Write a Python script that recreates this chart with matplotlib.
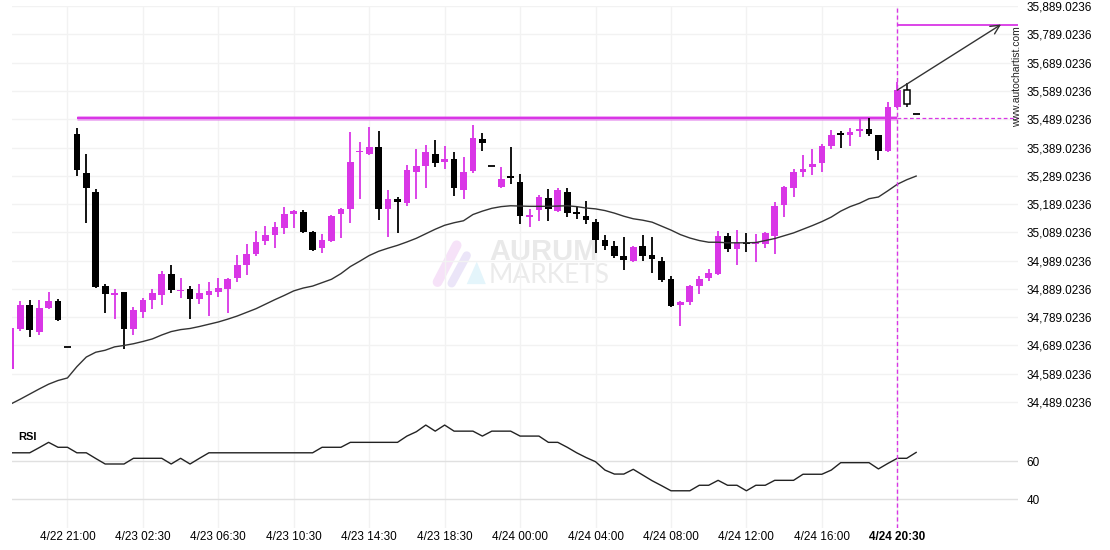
import numpy as np
import matplotlib.pyplot as plt
from matplotlib.ticker import FuncFormatter

plt.rcParams['font.family'] = ['Liberation Sans', 'DejaVu Sans']

# 30-minute candles
opens = [34605, 34747, 34832, 34736, 34821, 34846, 34683, 35436, 35298, 35231,
         34899, 34868, 34878, 34747, 34807, 34849, 34867, 34941, 34880, 34888,
         34853, 34867, 34878, 34888, 34927, 34973, 35012, 35058, 35079, 35104,
         35153, 35160, 35090, 35033, 35058, 35153, 35171, 35372, 35365, 35390,
         35171, 35206, 35192, 35302, 35323, 35365, 35337, 35348, 35238, 35305,
         35418, 35323, 35249, 35288, 35266, 35143, 35167, 35210, 35164, 35231,
         35159, 35146, 35125, 35061, 35040, 35005, 34987, 35040, 35008, 34987,
         34923, 34832, 34842, 34899, 34927, 34941, 35075, 35030, 35054, 35049,
         35047, 35075, 35185, 35245, 35302, 35319, 35334, 35394, 35436, 35433,
         35447, 35454, 35433, 35376, 35532, 35542, 35507]
closes = [34750, 34832, 34743, 34821, 34846, 34779, 34683, 35309, 35245, 34895,
          34870, 34875, 34747, 34814, 34849, 34874, 34941, 34885, 34885, 34853,
          34874, 34881, 34892, 34923, 34973, 35012, 35054, 35079, 35107, 35153,
          35164, 35090, 35026, 35061, 35146, 35171, 35337, 35376, 35390, 35171,
          35206, 35196, 35309, 35323, 35372, 35334, 35348, 35245, 35302, 35422,
          35404, 35323, 35277, 35281, 35146, 35150, 35213, 35171, 35238, 35157,
          35155, 35132, 35061, 35040, 35005, 34991, 35037, 35005, 34994, 34920,
          34828, 34842, 34899, 34923, 34945, 35075, 35030, 35051, 35047, 35054,
          35086, 35182, 35249, 35302, 35312, 35330, 35394, 35433, 35434, 35443,
          35454, 35436, 35376, 35532, 35592, 35592, 35507]
highs = [34750, 34846, 34849, 34849, 34878, 34853, 34683, 35457, 35365, 35242,
         34906, 34888, 34878, 34825, 34856, 34888, 34952, 34973, 34927, 34899,
         34906, 34913, 34927, 34927, 35008, 35047, 35093, 35111, 35125, 35178,
         35167, 35167, 35093, 35083, 35150, 35174, 35443, 35408, 35461, 35447,
         35238, 35213, 35326, 35383, 35397, 35415, 35394, 35372, 35355, 35468,
         35440, 35323, 35319, 35390, 35295, 35171, 35220, 35242, 35245, 35245,
         35178, 35199, 35136, 35079, 35058, 35072, 35040, 35079, 35072, 35001,
         34934, 34846, 34902, 34934, 34959, 35093, 35086, 35097, 35086, 35083,
         35090, 35196, 35252, 35312, 35362, 35383, 35401, 35450, 35447, 35457,
         35496, 35493, 35433, 35549, 35620, 35616, 35507]
lows = [34605, 34740, 34718, 34726, 34817, 34775, 34683, 35288, 35121, 34892,
        34803, 34782, 34676, 34726, 34786, 34817, 34832, 34874, 34856, 34782,
        34835, 34793, 34860, 34803, 34913, 34938, 35004, 35044, 35033, 35083,
        35104, 35086, 35022, 35015, 35054, 35068, 35121, 35206, 35362, 35132,
        35072, 35086, 35182, 35206, 35245, 35319, 35312, 35217, 35206, 35298,
        35376, 35323, 35245, 35259, 35118, 35107, 35129, 35129, 35160, 35143,
        35136, 35118, 35015, 35026, 34998, 34955, 34984, 34987, 34945, 34913,
        34825, 34757, 34832, 34870, 34916, 34938, 35019, 34973, 35019, 34984,
        35033, 35012, 35143, 35213, 35284, 35291, 35302, 35383, 35387, 35394,
        35425, 35429, 35344, 35372, 35528, 35532, 35507]

moving_avg = [34482, 34499, 34517, 34535, 34552, 34565, 34574, 34614, 34648, 34665,
              34672, 34684, 34689, 34695, 34703, 34712, 34726, 34738, 34745, 34749,
              34756, 34764, 34772, 34782, 34793, 34806, 34819, 34835, 34851, 34866,
              34882, 34892, 34899, 34911, 34923, 34943, 34968, 34987, 35007, 35022,
              35033, 35043, 35055, 35068, 35084, 35100, 35114, 35123, 35130, 35152,
              35164, 35174, 35180, 35183, 35182, 35181, 35181, 35181, 35182, 35183,
              35180, 35175, 35172, 35166, 35157, 35146, 35137, 35132, 35125, 35111,
              35097, 35081, 35069, 35060, 35054, 35054, 35052, 35052, 35052, 35053,
              35060, 35067, 35077, 35087, 35100, 35113, 35127, 35143, 35164, 35180,
              35192, 35208, 35214, 35236, 35259, 35275, 35288]

rsi = [64.5, 64.5, 64.5, 67.2, 70.0, 67.4, 67.4, 64.5, 64.5, 61.5,
       58.6, 58.6, 58.6, 61.6, 61.6, 61.6, 61.6, 58.6, 61.6, 58.6,
       61.6, 64.5, 64.5, 64.5, 64.5, 64.5, 64.5, 64.5, 64.5, 64.5,
       64.5, 64.5, 64.5, 67.4, 67.4, 67.4, 70.0, 70.0, 70.0, 70.0,
       70.0, 70.0, 73.3, 75.6, 79.1, 75.9, 79.1, 75.9, 75.9, 75.9,
       73.3, 75.9, 75.9, 75.9, 73.3, 73.3, 73.3, 70.0, 70.0, 67.4,
       64.5, 62.0, 59.8, 55.4, 53.3, 53.3, 55.8, 52.8, 49.8, 47.2,
       44.5, 44.5, 44.5, 47.4, 47.4, 50.0, 47.4, 47.4, 44.5, 47.4,
       47.4, 50.0, 50.0, 50.0, 53.2, 53.2, 53.2, 55.4, 59.3, 59.3,
       59.3, 59.3, 56.0, 58.9, 61.6, 61.6, 64.7]

tick_idx = [6, 14, 22, 30, 38, 46, 54, 62, 70, 78, 86, 94]
tick_labels = ['4/22 21:00', '4/23 02:30', '4/23 06:30', '4/23 10:30',
               '4/23 14:30', '4/23 18:30', '4/24 00:00', '4/24 04:00',
               '4/24 08:00', '4/24 12:00', '4/24 16:00', '4/24 20:30']

resistance = 35494
resistance_start = 7
breakout_idx = 94
live_idx = 95
target = 35824
target_idx = 105

PURPLE = '#d936e6'
GRID = '#f2f2f2'

fig = plt.figure(figsize=(11.1, 5.5), dpi=100)
ax = fig.add_axes([12 / 1110, 1 - 415 / 550, 1006 / 1110, 409 / 550])
ax2 = fig.add_axes([12 / 1110, 1 - 528 / 550, 1006 / 1110, 113 / 550], sharex=ax)

x = np.arange(len(opens))
o, h, l, c = (np.array(v, dtype=float) for v in (opens, highs, lows, closes))

# candles
for i in x:
    if h[i] == l[i]:
        ax.hlines(o[i], i - 0.36, i + 0.36, color='black', lw=1.3, zorder=3)
        continue
    if i == live_idx:
        ax.vlines(i, l[i], h[i], color='black', lw=1.1, zorder=2)
        ax.bar(i, c[i] - o[i], bottom=o[i], width=0.62, facecolor='white',
               edgecolor='black', lw=1.1, zorder=3)
        continue
    col = PURPLE if c[i] > o[i] else 'black'
    body = max(abs(c[i] - o[i]), 5)
    ax.vlines(i, l[i], h[i], color=col, lw=1.3, zorder=2)
    ax.bar(i, body, bottom=min(o[i], c[i]), width=0.71, color=col, lw=0, zorder=3)

ax.plot(x, moving_avg, color='#333333', lw=1.0, zorder=4)

xmin, xmax = 0.12, 106.8
# resistance + target
ax.hlines(resistance, resistance_start, breakout_idx, color=PURPLE, lw=3.4, alpha=0.4, zorder=1)
ax.hlines(resistance, resistance_start, breakout_idx, color=PURPLE, lw=1.6, zorder=1)
ax.hlines(resistance, breakout_idx, xmax, color=PURPLE, lw=0.9, linestyles=(0, (3, 2)), zorder=1)
ax.hlines(target, breakout_idx, xmax, color=PURPLE, lw=1.3, zorder=1)
ax.annotate('', xy=(target_idx, target), xytext=(breakout_idx, closes[breakout_idx]),
            arrowprops=dict(arrowstyle='->', color='#333333', lw=1.0, mutation_scale=16,
                            shrinkA=0, shrinkB=0), zorder=5)
for a in (ax, ax2):
    a.axvline(breakout_idx, color=PURPLE, lw=1.0, ls=(0, (3, 2)), zorder=5)

# watermark
ax.text(0.474, 0.399, 'AURUM', transform=ax.transAxes, fontsize=21, fontweight='bold',
        color='#e9e9e9', ha='left', va='center', zorder=0)
ax.text(0.474, 0.34, 'MARKETS', transform=ax.transAxes, fontsize=19,
        color='#ebebeb', ha='left', va='center', zorder=0, family='Lato')
ax.plot([0.423, 0.442], [0.325, 0.415], transform=ax.transAxes, color='#f6e2f8',
        lw=7, solid_capstyle='round', zorder=0)
ax.plot([0.437, 0.452], [0.322, 0.39], transform=ax.transAxes, color='#ebe5f8',
        lw=6, solid_capstyle='round', zorder=0)
ax.fill([0.452, 0.471, 0.462], [0.32, 0.32, 0.375], transform=ax.transAxes,
        color='#e4f5fb', lw=0, zorder=0)

ax.set_xlim(xmin, xmax)
ax.set_ylim(34443, 35889.5)
ax.yaxis.tick_right()
ax.set_yticks(np.arange(34489.0236, 35890, 100))
ax.yaxis.set_major_formatter(FuncFormatter(lambda v, p: f'{v:,.4f}'))
ax.grid(True, color=GRID, lw=1)
ax.set_axisbelow(True)
ax.tick_params(axis='y', length=0, pad=6, labelsize=8.5)
ax.tick_params(axis='x', length=0, labelbottom=False)
ax.set_xticks(tick_idx)

# RSI panel
ax2.plot(x, rsi, color='#222222', lw=1.0)
ax2.set_ylim(24.9, 84.4)
ax2.yaxis.tick_right()
ax2.set_yticks([40, 60])
ax2.tick_params(axis='y', length=0, pad=6, labelsize=8.5)
ax2.tick_params(axis='x', length=0, pad=2, labelsize=8.5)
ax2.set_xticks(tick_idx)
ax2.set_xticklabels(tick_labels)
ax2.get_xticklabels()[-1].set_fontweight('bold')
ax2.grid(True, axis='x', color=GRID, lw=1)
ax2.grid(True, axis='y', color='#e0e0e0', lw=1)
ax2.set_axisbelow(True)
ax2.text(0.006, 0.805, 'RSI', transform=ax2.transAxes, fontsize=8, fontweight='bold',
         ha='left', va='center')

for a in (ax, ax2):
    for s in a.spines.values():
        s.set_visible(False)

fig.text(1017.5 / 1110, 1 - 76.5 / 550, 'www.autochartist.com', rotation=90,
         ha='center', va='center', fontsize=7.5, color='#222222')

fig.savefig('out.png', dpi=100)
